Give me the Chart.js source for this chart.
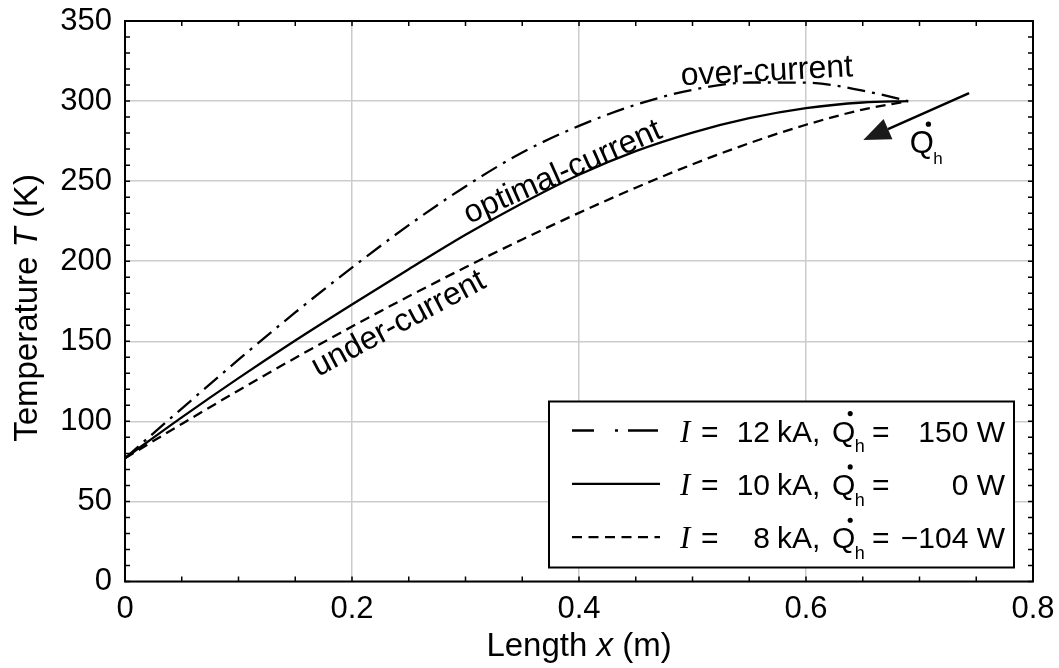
<!DOCTYPE html>
<html><head><meta charset="utf-8">
<script src="https://cdn.jsdelivr.net/npm/chart.js@4.4.1/dist/chart.umd.min.js"></script>
<style>html,body{margin:0;padding:0;background:#fff;}</style>
</head><body>
<canvas id="c" width="1059" height="668"></canvas>
<script>
// ---- data ----
const lengthX = [0, 0.05, 0.1, 0.15, 0.2, 0.25, 0.3, 0.35, 0.4, 0.45, 0.5, 0.55, 0.6, 0.65, 0.69];
const overCurrentT    = [77, 108, 138.5, 168, 196, 222.5, 246.7, 267.9, 284.5, 297.7, 307, 311.6, 311.5, 306.5, 300];
const optimalCurrentT = [77, 102.5, 127, 150.5, 173, 195, 216.5, 236.2, 254, 268.7, 280.3, 289.3, 295.6, 299.1, 300];
const underCurrentT   = [77, 98.4, 119.3, 139.6, 159.2, 178.1, 196.2, 213.6, 230.2, 245.9, 260.5, 273.7, 285.2, 294.7, 300];
const xTickLabels = ['0', '0.2', '0.4', '0.6', '0.8'];
const yTickLabels = ['0', '50', '100', '150', '200', '250', '300', '350'];
const seriesNames = ['over-current', 'optimal-current', 'under-current'];
const legendCurrents = ['12', '10', '8'];
const legendHeat = ['150 W', '0 W', '\u2212104 W'];
// annotation anchors (data coordinates)
const curveLabels = [
  {text: 'over-current',    x: 0.5655, y: 318.2, angle: -3},
  {text: 'optimal-current', x: 0.3857, y: 255.4, angle: -24},
  {text: 'under-current',   x: 0.2412, y: 160.8, angle: -28}
];
const arrowFrom = {x: 0.7437, y: 304.9};
const arrowTo   = {x: 0.6505, y: 275.7};
const qLabelAt  = {x: 0.6913, y: 267.6};

const SANS = '"Liberation Sans", Arial, sans-serif';
const SERIF = '"Liberation Serif", "Times New Roman", serif';
const dashes = [[18, 7, 3, 7], [], [10, 6]];
const legendDashes = [[22, 21, 3, 10, 30, 40], [], [10, 6.5]];

function pts(ys){ return lengthX.map((x,i)=>({x:x, y:ys[i]})); }

function drawRuns(ctx, runs, x, y, align){
  let w = 0;
  runs.forEach(r=>{ ctx.font = r.font; w += ctx.measureText(r.text).width; });
  let cx = align === 'center' ? x - w/2 : (align === 'right' ? x - w : x);
  runs.forEach(r=>{ ctx.font = r.font; ctx.textAlign='left'; ctx.fillText(r.text, cx, y); cx += ctx.measureText(r.text).width; });
}

function drawQh(ctx, x, y, size, subSize){
  ctx.font = size + 'px ' + SANS;
  ctx.textAlign = 'left'; ctx.textBaseline = 'alphabetic';
  ctx.fillText('Q', x, y);
  const qw = ctx.measureText('Q').width;
  ctx.beginPath();
  ctx.arc(x + qw*0.78, y - size*0.93, size*0.085, 0, Math.PI*2);
  ctx.fill();
  ctx.font = subSize + 'px ' + SANS;
  ctx.fillText('h', x + qw*0.98, y + size*0.36);
  return qw;
}

const decor = {
  id: 'decor',
  afterDraw(chart){
    const ctx = chart.ctx, a = chart.chartArea;
    const xs = chart.scales.x, ys = chart.scales.y;
    ctx.save();
    ctx.fillStyle = '#000'; ctx.strokeStyle = '#000';
    // inward minor ticks
    ctx.lineWidth = 1.5; ctx.setLineDash([]);
    xs.ticks.forEach(t=>{
      const px = xs.getPixelForValue(t.value);
      ctx.beginPath(); ctx.moveTo(px, a.bottom); ctx.lineTo(px, a.bottom-5);
      ctx.moveTo(px, a.top); ctx.lineTo(px, a.top+5); ctx.stroke();
    });
    ys.ticks.forEach(t=>{
      const py = ys.getPixelForValue(t.value);
      ctx.beginPath(); ctx.moveTo(a.left, py); ctx.lineTo(a.left+5, py);
      ctx.moveTo(a.right, py); ctx.lineTo(a.right-5, py); ctx.stroke();
    });
    // frame
    ctx.lineWidth = 2;
    ctx.strokeRect(a.left, a.top, a.right-a.left, a.bottom-a.top);

    // curve labels
    ctx.font = '32px ' + SANS; ctx.textAlign='center'; ctx.textBaseline='middle';
    curveLabels.forEach(l=>{
      ctx.save();
      ctx.translate(xs.getPixelForValue(l.x), ys.getPixelForValue(l.y));
      ctx.rotate(l.angle*Math.PI/180);
      ctx.fillText(l.text, 0, 0);
      ctx.restore();
    });

    // arrow
    const x1 = xs.getPixelForValue(arrowFrom.x), y1 = ys.getPixelForValue(arrowFrom.y);
    const x2 = xs.getPixelForValue(arrowTo.x), y2 = ys.getPixelForValue(arrowTo.y);
    const ang = Math.atan2(y2-y1, x2-x1);
    const hl = 27, hw = 11;
    const bx = x2 - hl*Math.cos(ang), by = y2 - hl*Math.sin(ang);
    ctx.lineWidth = 2.5;
    ctx.beginPath(); ctx.moveTo(x1,y1); ctx.lineTo(bx,by); ctx.stroke();
    ctx.fillStyle = '#1a1a1a';
    ctx.beginPath(); ctx.moveTo(x2,y2);
    ctx.lineTo(bx + hw*Math.sin(ang), by - hw*Math.cos(ang));
    ctx.lineTo(bx - hw*Math.sin(ang), by + hw*Math.cos(ang));
    ctx.closePath(); ctx.fill();
    ctx.fillStyle = '#000';
    drawQh(ctx, xs.getPixelForValue(qLabelAt.x), ys.getPixelForValue(qLabelAt.y), 31, 17);

    // legend
    const lw = 465, lh = 166;
    const lx = a.right - 19 - lw, ly = a.bottom - 14 - lh;
    ctx.fillStyle = '#fff'; ctx.fillRect(lx, ly, lw, lh);
    ctx.lineWidth = 2; ctx.strokeStyle = '#000'; ctx.strokeRect(lx, ly, lw, lh);
    ctx.fillStyle = '#000';
    for (let i=0;i<3;i++){
      const base = ly + 40 + i*53.3;
      const lineY = base - 11;
      ctx.lineWidth = 2.3; ctx.setLineDash(legendDashes[i]);
      ctx.beginPath(); ctx.moveTo(lx+23, lineY); ctx.lineTo(lx+111, lineY); ctx.stroke();
      ctx.setLineDash([]);
      ctx.textBaseline = 'alphabetic';
      ctx.font = 'italic 31px ' + SERIF; ctx.textAlign='left';
      ctx.fillText('I', lx+131, base);
      ctx.font = '30px ' + SANS;
      ctx.fillText('=', lx+152, base);
      ctx.textAlign='right'; ctx.fillText(legendCurrents[i], lx+221, base);
      ctx.textAlign='left'; ctx.fillText('kA,', lx+228, base);
      drawQh(ctx, lx+283, base, 30, 18);
      ctx.font = '30px ' + SANS; ctx.textAlign='left';
      ctx.fillText('=', lx+323, base);
      ctx.textAlign='right'; ctx.fillText(legendHeat[i], lx+456, base);
    }

    // axis titles
    ctx.fillStyle = '#000'; ctx.textBaseline='alphabetic';
    drawRuns(ctx, [
      {text:'Length ', font:'33px '+SANS},
      {text:'x', font:'italic 33px '+SANS},
      {text:' (m)', font:'33px '+SANS}
    ], (a.left+a.right)/2, 656, 'center');
    ctx.save();
    ctx.translate(37, 308);
    ctx.rotate(-Math.PI/2);
    drawRuns(ctx, [
      {text:'Temperature ', font:'33px '+SANS},
      {text:'T', font:'italic 33px '+SANS},
      {text:' (K)', font:'33px '+SANS}
    ], 0, 0, 'center');
    ctx.restore();
    ctx.restore();
  }
};

const near = (v, step) => Math.abs(v/step - Math.round(v/step)) < 1e-6;

new Chart(document.getElementById('c'), {
  type: 'line',
  data: {
    datasets: [overCurrentT, optimalCurrentT, underCurrentT].map((ys,i)=>({
      label: seriesNames[i],
      data: pts(ys),
      borderColor: '#000',
      borderWidth: 2.3,
      borderDash: dashes[i],
      pointRadius: 0,
      fill: false,
      cubicInterpolationMode: 'monotone'
    }))
  },
  options: {
    responsive: false,
    animation: false,
    devicePixelRatio: 1,
    layout: {padding: {left: 0, right: 26, top: 21, bottom: 0}},
    plugins: {legend: {display: false}, tooltip: {enabled: false}},
    scales: {
      x: {
        type: 'linear', min: 0, max: 0.8,
        afterFit(s){ s.height = 86.5; s.paddingLeft = 0; s.paddingRight = 0; },
        ticks: {
          stepSize: 0.05, autoSkip: false, maxRotation: 0, padding: 9,
          color: '#000', font: {family: SANS, size: 31},
          callback: v => near(v, 0.2) ? xTickLabels[Math.round(v/0.2)] : ''
        },
        grid: {
          drawTicks: false, lineWidth: 1.5,
          color: c => (c.tick && near(c.tick.value, 0.2)) ? '#cccccc' : 'rgba(0,0,0,0)'
        },
        border: {display: false}
      },
      y: {
        type: 'linear', min: 0, max: 350,
        afterFit(s){ s.width = 125; s.paddingTop = 0; s.paddingBottom = 0; },
        ticks: {
          stepSize: 10, autoSkip: false, padding: 13,
          color: '#000', font: {family: SANS, size: 31},
          callback: v => near(v, 50) ? yTickLabels[Math.round(v/50)] : ''
        },
        grid: {
          drawTicks: false, lineWidth: 1.5,
          color: c => (c.tick && near(c.tick.value, 50)) ? '#cccccc' : 'rgba(0,0,0,0)'
        },
        border: {display: false}
      }
    }
  },
  plugins: [decor]
});
</script>
</body></html>
